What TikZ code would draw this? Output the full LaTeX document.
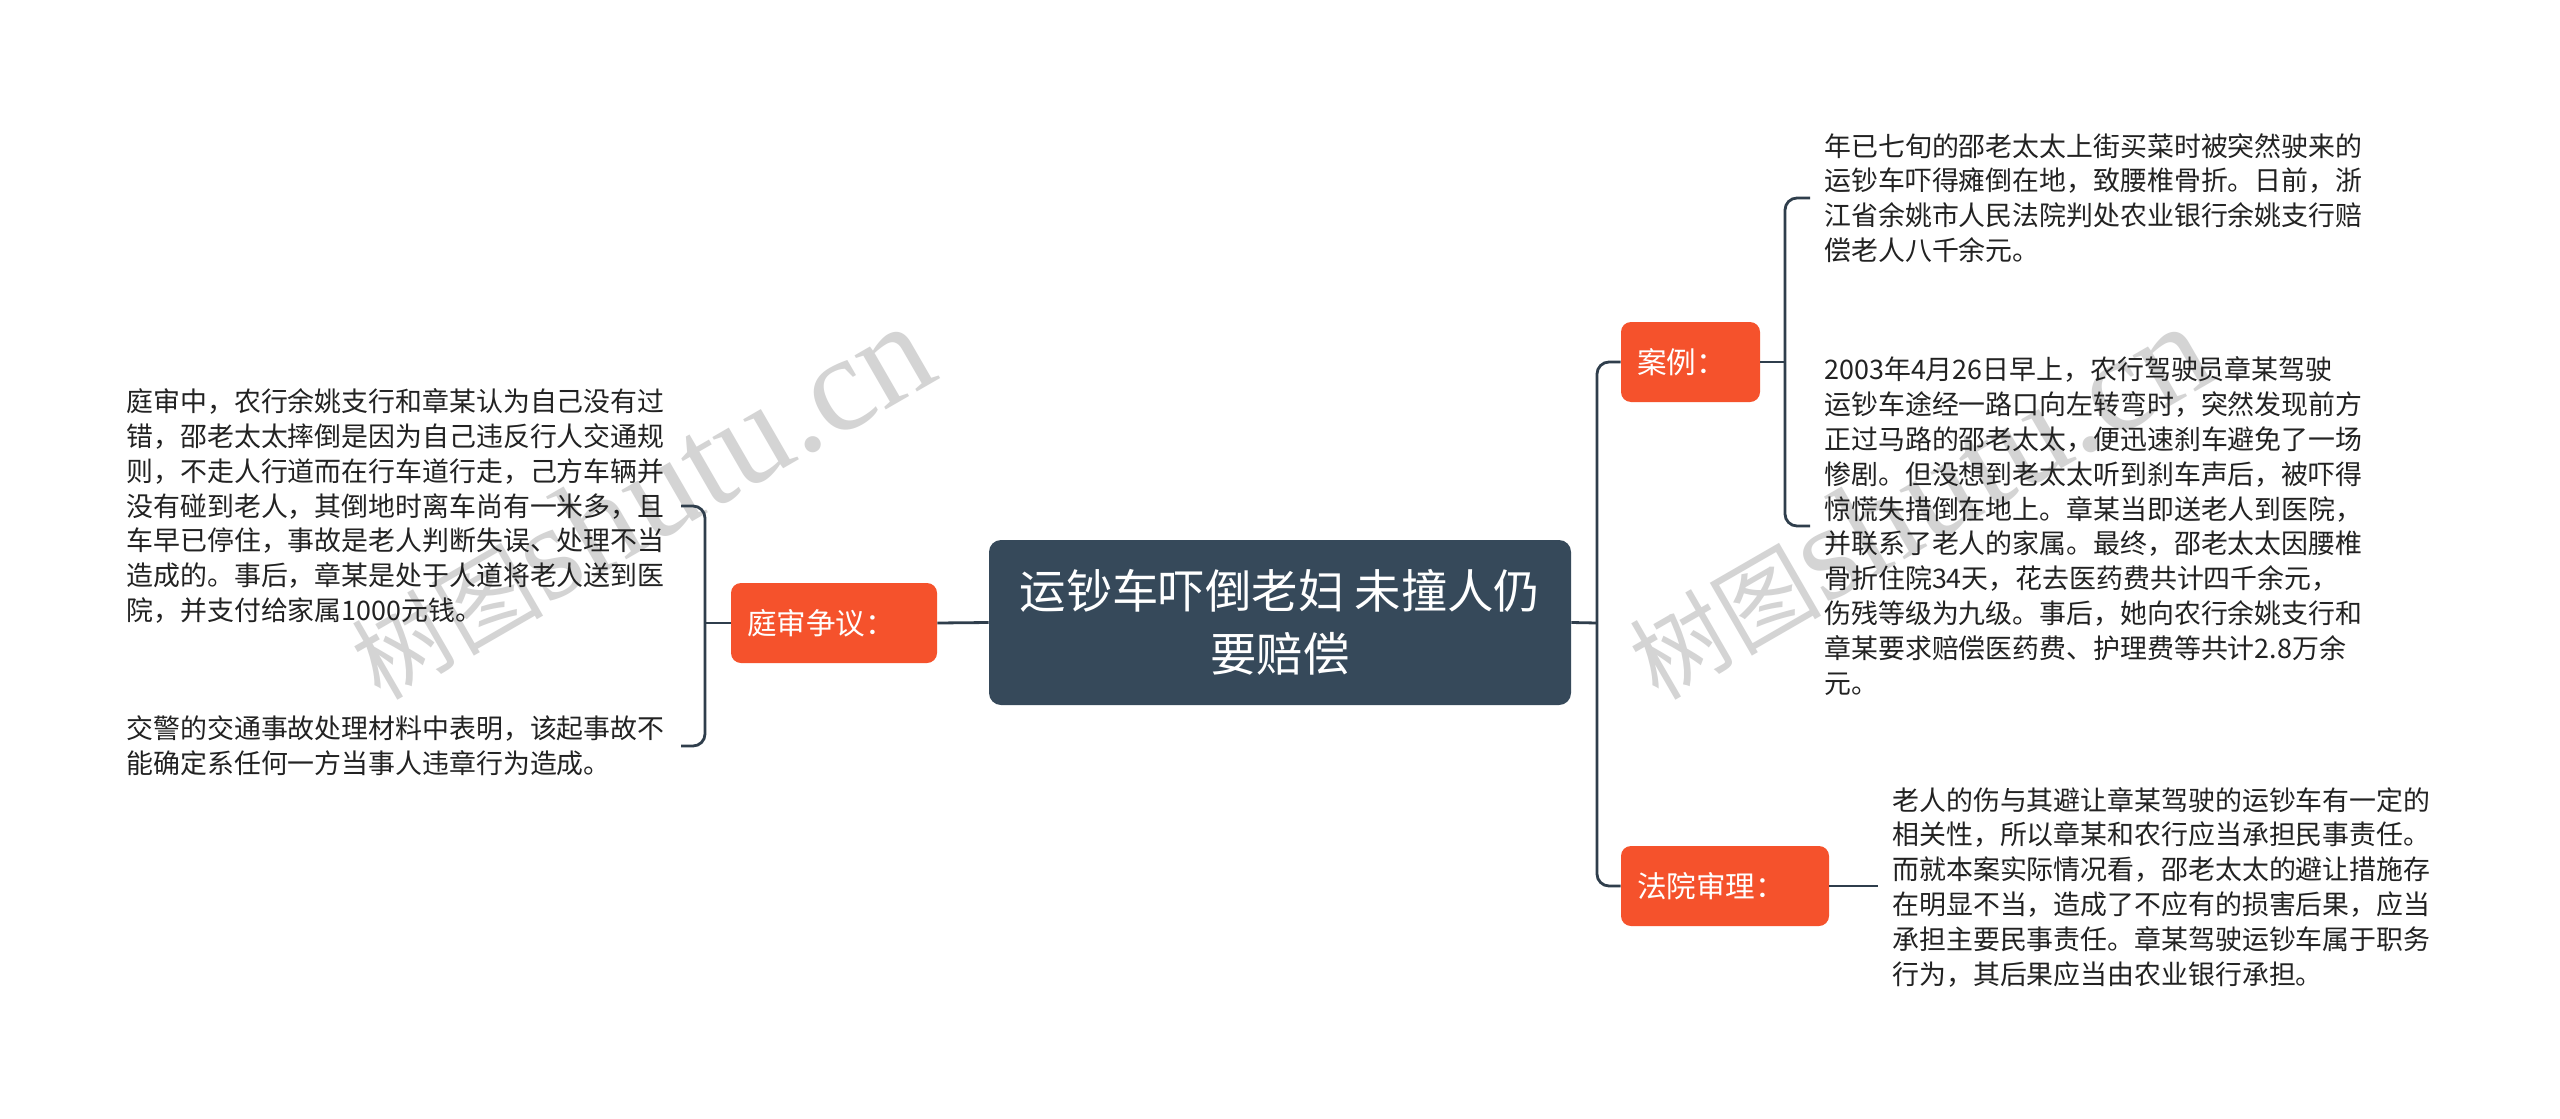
\documentclass[tikz,border=0pt]{standalone}
\usepackage{fontspec}
\setmainfont{Noto Sans CJK SC}
\newfontfamily\wmlatin{Liberation Serif}
\definecolor{rootfill}{RGB}{54,73,90}
\definecolor{branchfill}{RGB}{245,82,44}
\definecolor{linec}{RGB}{47,62,76}
\definecolor{txt}{RGB}{34,34,34}
\definecolor{wm}{RGB}{212,212,212}
\begin{document}
\begin{tikzpicture}[x=0.5pt,y=-0.5pt,
  conn/.style={draw=linec, line width=1.4pt, rounded corners=6pt},
  rootbox/.style={fill=rootfill, rounded corners=6pt, text=white, align=center,
    font=\fontsize{23.2}{31.5}\selectfont, minimum width=291pt, minimum height=82.5pt, inner sep=0pt},
  branchbox/.style={fill=branchfill, rounded corners=5pt, text=white, align=left,
    font=\fontsize{14.8}{18}\selectfont, minimum height=40pt, inner xsep=8pt, inner ysep=0pt},
  leaf/.style={text=txt, font=\fontsize{13.45}{17.4}\selectfont, align=left, inner xsep=7pt, inner ysep=0pt},
  wmark/.style={text=wm, rotate=30, inner sep=0pt, anchor=base west}
]
\useasboundingbox[fill=white] (0,0) rectangle (2560,1119);

% watermarks
\node[wmark] (wm1) at (380,702) {\fontsize{48}{48}\selectfont 树图\wmlatin\fontsize{68}{68}\selectfont shutu.cn};
\node[wmark] (wm2) at (1658,702) {\fontsize{48}{48}\selectfont 树图\wmlatin\fontsize{68}{68}\selectfont shutu.cn};

% nodes
\node[rootbox] (root) at (1280,622.5) {运钞车吓倒老妇 未撞人仍\\要赔偿};
\node[branchbox, text width=87pt] (lb) at (834,623) {庭审争议：};
\node[branchbox, text width=53.5pt] (case) at (1690.5,362) {案例：};
\node[branchbox, text width=88pt] (court) at (1725,886) {法院审理：};

\node[leaf, inner xsep=8pt, anchor=east] (l1) at (681,506) {庭审中，农行余姚支行和章某认为自己没有过\\
错，邵老太太摔倒是因为自己违反行人交通规\\
则，不走人行道而在行车道行走，己方车辆并\\
没有碰到老人，其倒地时离车尚有一米多，且\\
车早已停住，事故是老人判断失误、处理不当\\
造成的。事后，章某是处于人道将老人送到医\\
院，并支付给家属1000元钱。};
\node[leaf, inner xsep=8pt, anchor=east] (l2) at (681,746) {交警的交通事故处理材料中表明，该起事故不\\
能确定系任何一方当事人违章行为造成。};

\node[leaf, anchor=west] (r1) at (1810,198) {年已七旬的邵老太太上街买菜时被突然驶来的\\
运钞车吓得瘫倒在地，致腰椎骨折。日前，浙\\
江省余姚市人民法院判处农业银行余姚支行赔\\
偿老人八千余元。};
\node[leaf, anchor=west] (r2) at (1810,526) {2003年4月26日早上，农行驾驶员章某驾驶\\
运钞车途经一路口向左转弯时，突然发现前方\\
正过马路的邵老太太，便迅速刹车避免了一场\\
惨剧。但没想到老太太听到刹车声后，被吓得\\
惊慌失措倒在地上。章某当即送老人到医院，\\
并联系了老人的家属。最终，邵老太太因腰椎\\
骨折住院34天，花去医药费共计四千余元，\\
伤残等级为九级。事后，她向农行余姚支行和\\
章某要求赔偿医药费、护理费等共计2.8万余\\
元。};
\node[leaf, anchor=west] (r3) at (1878,887) {老人的伤与其避让章某驾驶的运钞车有一定的\\
相关性，所以章某和农行应当承担民事责任。\\
而就本案实际情况看，邵老太太的避让措施存\\
在明显不当，造成了不应有的损害后果，应当\\
承担主要民事责任。章某驾驶运钞车属于职务\\
行为，其后果应当由农业银行承担。};

% junctions
\coordinate (lj) at (705,623);
\coordinate (rj) at (1597,623);
\coordinate (cj) at (1785,362);

% connectors
\draw[conn] (root.west) -- (lb.east);
\draw[conn] (lb.west) -- (lj);
\draw[conn] (l1.east) -| (lj) |- (l2.east);
\draw[conn] (root.east) -- (rj);
\draw[conn] (case.west) -| (rj) |- (court.west);
\draw[conn] (case.east) -- (cj);
\draw[conn] (r1.west) -| (cj) |- (r2.west);
\draw[conn] (court.east) -- (court.east -| r3.west);
\end{tikzpicture}
\end{document}
